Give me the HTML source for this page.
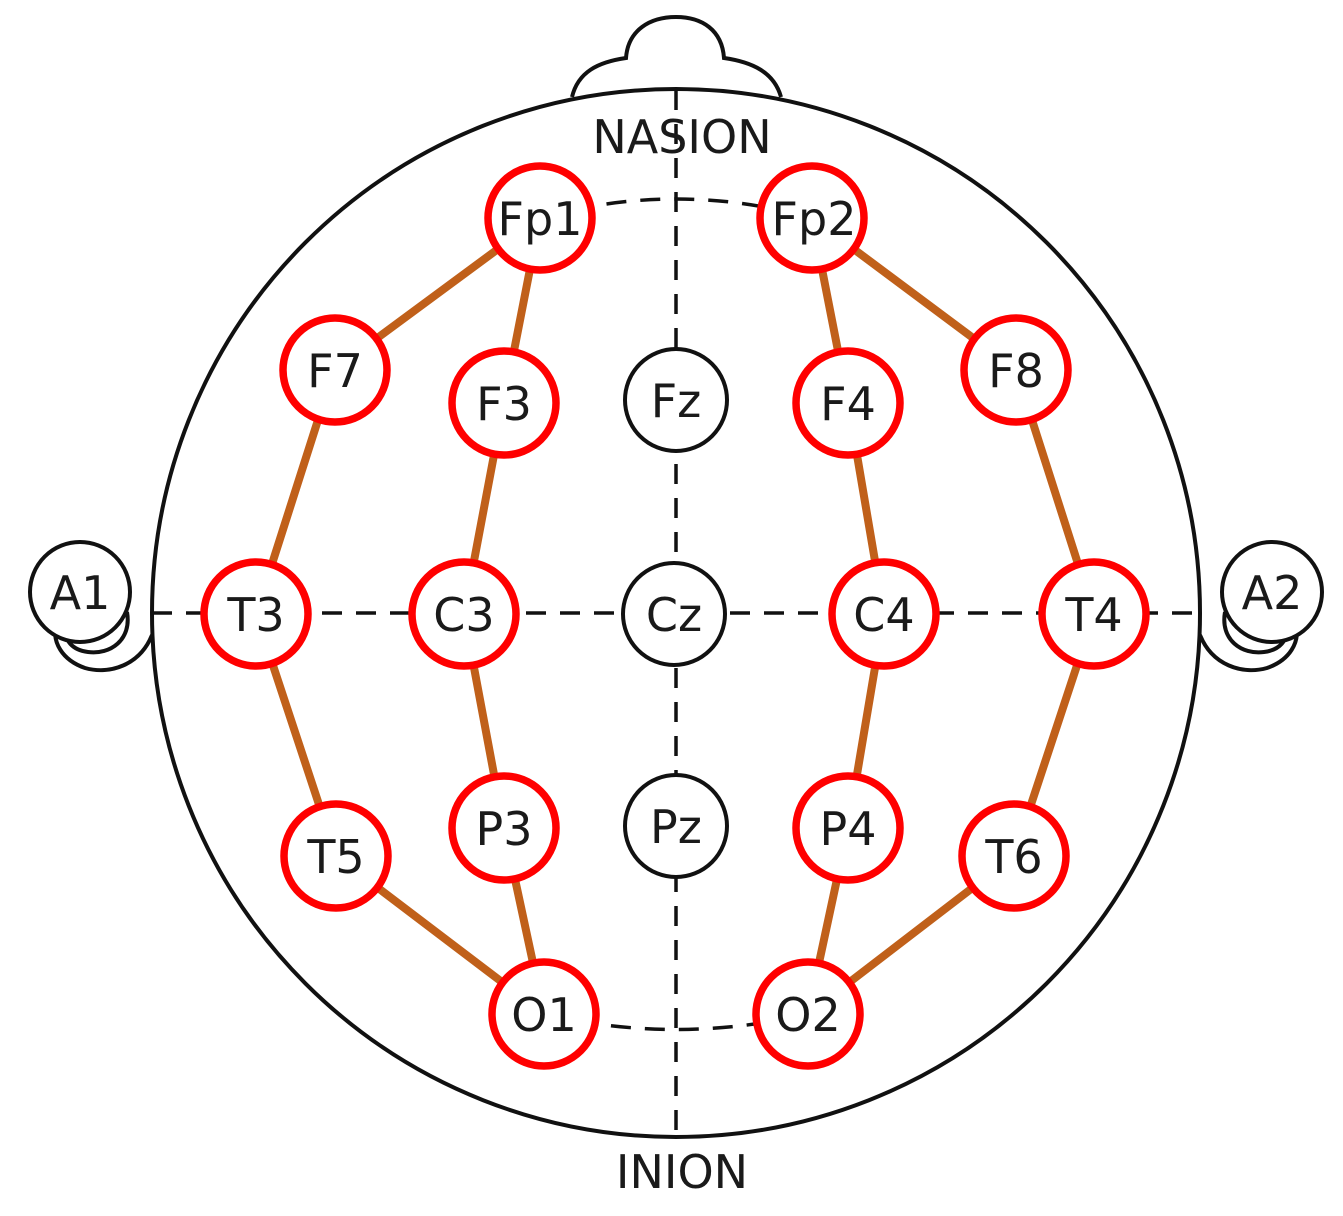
<!DOCTYPE html>
<html><head><style>html,body{margin:0;padding:0;background:#fff}svg{display:block}</style></head>
<body>
<svg width="1343" height="1216" viewBox="0 0 1343 1216" xmlns="http://www.w3.org/2000/svg" font-family="'DejaVu Sans','Liberation Sans',sans-serif">
<g fill="none" stroke="#111" stroke-width="4">
<path d="M572,97 C578,72 598,62 626,58 C628,30 650,17 676,17 C702,17 722,30 724,58 C752,62 774,72 781,97"/>
<circle cx="676" cy="613" r="524" fill="#fff"/>
<path d="M152,635 C140,665 110,675 85,668 C62,660 52,642 56,625"/>
<path d="M127,612 C132,640 110,655 88,652 C72,650 64,640 66,628"/>
<path d="M1200,635 C1212,665 1242,675 1267,668 C1290,660 1300,642 1296,625"/>
<path d="M1225,612 C1220,640 1242,655 1264,652 C1280,650 1288,640 1286,628"/>
<circle cx="80" cy="592" r="50" fill="#fff"/>
<circle cx="1272" cy="592" r="50" fill="#fff"/>
<g stroke-dasharray="20,14" stroke-width="3.5">
<line x1="152" y1="613" x2="1200" y2="613"/>
<line x1="676" y1="90" x2="676" y2="1136"/>
<path d="M540,218 Q676,180 812,218"/>
<path d="M544,1014 Q676,1045 808,1014"/>
<path d="M540,218 L334,370 L256,614 L336,856 L544,1014"/>
<path d="M812,218 L1016,370 L1094,614 L1014,856 L808,1014"/>
</g>
</g>
<g stroke="#c0601a" stroke-width="8" fill="none">
<polyline points="540,218 334,370 256,614 336,856 544,1014"/>
<polyline points="540,218 504,402 464,614 504,828 544,1014"/>
<polyline points="812,218 1016,370 1094,614 1014,856 808,1014"/>
<polyline points="812,218 848,402 884,614 848,828 808,1014"/>
</g>
<g fill="#fff" stroke="#111" stroke-width="4">
<circle cx="676" cy="400" r="51"/><circle cx="674" cy="614" r="51"/><circle cx="676" cy="826" r="51"/>
</g>
<g fill="#fff" stroke="#f00" stroke-width="7.5">
<circle cx="540" cy="218" r="52"/><circle cx="812" cy="218" r="52"/>
<circle cx="335" cy="370" r="52"/><circle cx="504" cy="403" r="52"/>
<circle cx="848" cy="403" r="52"/><circle cx="1016" cy="370" r="52"/>
<circle cx="256" cy="614" r="52"/><circle cx="464" cy="614" r="52"/>
<circle cx="884" cy="614" r="52"/><circle cx="1094" cy="614" r="52"/>
<circle cx="336" cy="856" r="52"/><circle cx="504" cy="828" r="52"/>
<circle cx="848" cy="828" r="52"/><circle cx="1014" cy="856" r="52"/>
<circle cx="544" cy="1014" r="52"/><circle cx="808" cy="1014" r="52"/>
</g>
<g fill="#1a1a1a" font-size="46" text-anchor="middle">
<text x="540" y="235">Fp1</text><text x="814" y="235">Fp2</text>
<text x="335" y="387">F7</text><text x="504" y="420">F3</text>
<text x="676" y="417">Fz</text><text x="848" y="420">F4</text><text x="1016" y="387">F8</text>
<text x="256" y="631">T3</text><text x="464" y="631">C3</text><text x="674" y="631">Cz</text>
<text x="884" y="631">C4</text><text x="1094" y="631">T4</text>
<text x="336" y="873">T5</text><text x="504" y="845">P3</text><text x="676" y="843">Pz</text>
<text x="848" y="845">P4</text><text x="1014" y="873">T6</text>
<text x="544" y="1031">O1</text><text x="808" y="1031">O2</text>
<text x="80" y="609">A1</text><text x="1272" y="609">A2</text>
<text x="682" y="153" font-size="46">NASION</text>
<text x="682" y="1188" font-size="46">INION</text>
</g>
</svg>
</body></html>
